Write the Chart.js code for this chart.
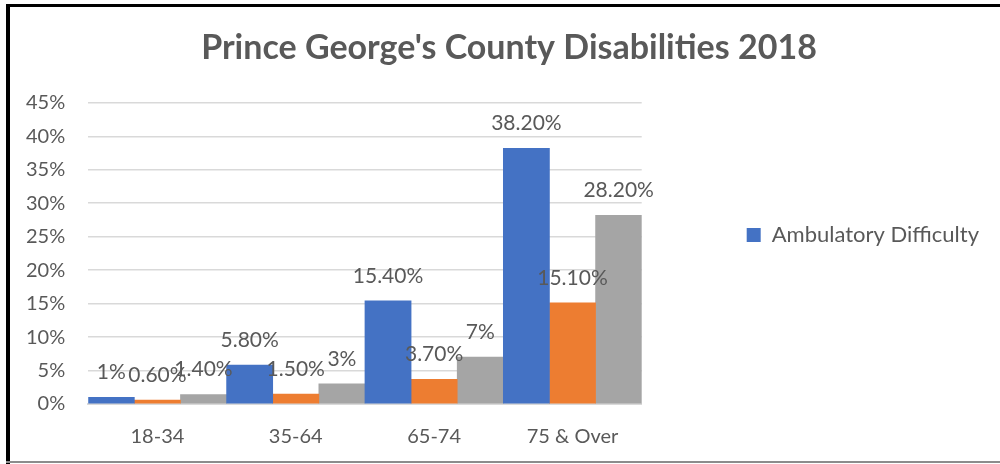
<!DOCTYPE html>
<html>
<head>
<meta charset="utf-8">
<script src="https://cdn.jsdelivr.net/npm/chart.js@4.4.0/dist/chart.umd.min.js"></script>
<style>
    html, body { margin: 0; padding: 0; background: #fff; }
    #wrap { position: relative; width: 1000px; height: 464px; overflow: hidden; }
    #wrap canvas { position: absolute; left: 0; top: 0; }
    .line { position: absolute; }
</style>
</head>
<body>
<div id="wrap">
    <canvas id="chartDisab" width="1000" height="464"></canvas>
    <div class="line" style="left:6px; top:4px; width:994px; height:3px; background:#000;"></div>
    <div class="line" style="left:6px; top:4px; width:4px; height:460px; background:#000;"></div>
    <div class="line" style="left:6px; top:461px; width:994px; height:2px; background:#8c8c8c;"></div>
</div>
<script>
// Datos (porcentaje)
const categorias = ['18-34', '35-64', '65-74', '75 & Over'];
const ambulatoria = [1, 5.8, 15.4, 38.2];
const serieNaranja = [0.6, 1.5, 3.7, 15.1];
const serieGris = [1.4, 3, 7, 28.2];
const ejeMax = 45;
const ejePaso = 5;

const textColor = '#595959';
const fuente = 'Lato, "Open Sans", sans-serif';

function formato(v) {
    return Number.isInteger(v) ? v + '%' : v.toFixed(2) + '%';
}

// Etiquetas de datos encima de cada barra
const etiquetasPlugin = {
    id: 'etiquetas',
    afterLayout(chart) {
        // el título va un poco a la derecha en el original
        if (chart.titleBlock) {
            chart.titleBlock.left += 26;
        }
    },
    afterDatasetsDraw(chart) {
        const ctx = chart.ctx;
        ctx.save();
        ctx.font = '21px ' + fuente;
        ctx.fillStyle = textColor;
        ctx.textAlign = 'center';
        ctx.textBaseline = 'middle';
        chart.data.datasets.forEach((ds, i) => {
            const meta = chart.getDatasetMeta(i);
            meta.data.forEach((bar, j) => {
                ctx.fillText(formato(ds.data[j]), bar.x, bar.y - 25);
            });
        });
        ctx.restore();
    }
};

const ctx = document.getElementById('chartDisab').getContext('2d');
new Chart(ctx, {
    type: 'bar',
    data: {
        labels: categorias,
        datasets: [
            {
                label: 'Ambulatory Difficulty',
                data: ambulatoria,
                backgroundColor: '#4472C4'
            },
            {
                label: '',
                data: serieNaranja,
                backgroundColor: '#ED7D31'
            },
            {
                label: '',
                data: serieGris,
                backgroundColor: '#A5A5A5'
            }
        ]
    },
    options: {
        responsive: false,
        animation: false,
        layout: {
            padding: { left: 3, right: 11, top: 0, bottom: -6 }
        },
        datasets: {
            bar: {
                categoryPercentage: 1.0,
                barPercentage: 1.0
            }
        },
        plugins: {
            title: {
                display: true,
                text: "Prince George's County Disabilities 2018",
                color: textColor,
                font: { family: fuente, size: 34, weight: 'bold' },
                padding: { top: 28, bottom: 34 }
            },
            legend: {
                position: 'right',
                maxWidth: 420,
                labels: {
                    color: textColor,
                    font: { family: fuente, size: 22 },
                    boxWidth: 14,
                    boxHeight: 14,
                    padding: 105,
                    filter: item => item.datasetIndex === 0
                }
            },
            tooltip: { enabled: false }
        },
        scales: {
            x: {
                grid: { display: false, drawTicks: false },
                border: { color: '#d9d9d9', width: 2 },
                ticks: {
                    color: textColor,
                    font: { family: fuente, size: 20 },
                    padding: 21
                }
            },
            y: {
                min: 0,
                max: ejeMax,
                grid: { color: '#d9d9d9', lineWidth: 1.5, drawTicks: false },
                border: { display: false },
                ticks: {
                    stepSize: ejePaso,
                    color: textColor,
                    font: { family: fuente, size: 20 },
                    padding: 23,
                    callback: v => v + '%'
                }
            }
        }
    },
    plugins: [etiquetasPlugin]
});
</script>
</body>
</html>
